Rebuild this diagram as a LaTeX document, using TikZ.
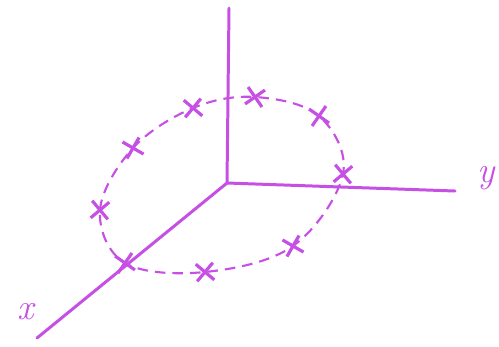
\documentclass[tikz,border=0pt]{standalone}
\usetikzlibrary{shapes.misc}
\definecolor{Ink}{HTML}{C64FE4}
\begin{document}
\begin{tikzpicture}[x=0.02cm,y=-0.02cm,
    axis/.style={draw=Ink,line width=1.7pt,line cap=round},
    orbit/.style={draw=Ink,line width=1.2pt,dash pattern=on 6pt off 4pt},
    cross/.style={cross out,draw=Ink,line width=1.8pt,minimum size=0.28cm,inner sep=0pt},
    lbl/.style={text=Ink,font=\huge\itshape}]
  \useasboundingbox (0,0) rectangle (499,346);
  \coordinate (o) at (227,183);
  \coordinate (zend) at (229,8);
  \coordinate (yend) at (455,191);
  \coordinate (xend) at (37,338);
  \draw[axis] (o) -- (zend);
  \draw[axis] (o) -- (yend);
  \draw[axis] (o) -- (xend);
  \node[lbl] (ylab) at (486,178) {y};
  \node[lbl] (xlab) at (26,312) {x};
  % points on the orbit
  \node[cross,rotate=10] (p1) at (125,263) {};
  \node[cross,rotate=-5] (p2) at (100,210) {};
  \node[cross,rotate=15] (p3) at (133,148) {};
  \node[cross,rotate=5] (p4) at (193,108) {};
  \node[cross,rotate=-10] (p5) at (255,97) {};
  \node[cross,rotate=10] (p6) at (319,116) {};
  \node[cross,rotate=-5] (p7) at (343,174) {};
  \node[cross,rotate=15] (p8) at (293,246) {};
  \node[cross,rotate=5] (p9) at (205,272) {};
  \draw[orbit] plot[smooth cycle,tension=0.6] coordinates
    {(p1) (p2) (p3) (p4) (p5) (p6) (p7) (p8) (p9)};
\end{tikzpicture}
\end{document}
